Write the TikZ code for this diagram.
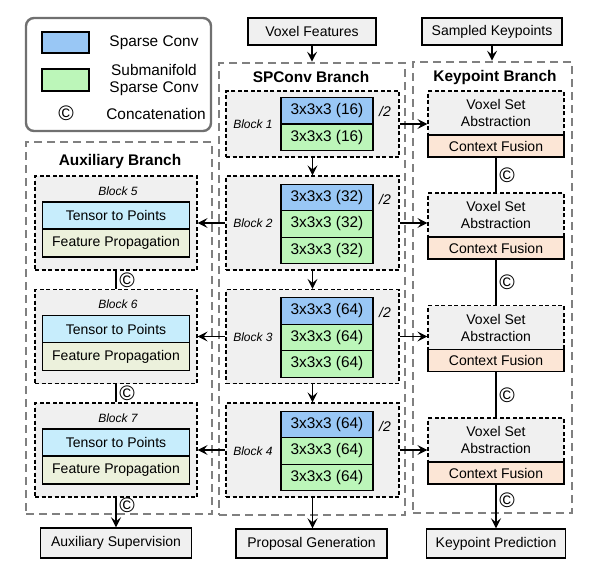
\documentclass[tikz,border=0pt]{standalone}
\usepackage{fontspec}
\setmainfont{Liberation Sans}
\usetikzlibrary{arrows.meta}
\definecolor{spblue}{RGB}{153,199,245}
\definecolor{smgreen}{RGB}{188,246,185}
\definecolor{cfpeach}{RGB}{252,230,214}
\definecolor{tpcyan}{RGB}{199,237,252}
\definecolor{fpbeige}{RGB}{236,241,220}
\definecolor{blkfill}{RGB}{240,240,240}
\definecolor{outergray}{RGB}{128,128,128}
\definecolor{leggray}{RGB}{112,112,112}
\newcommand{\fsz}[1]{\fontsize{#1}{17}\selectfont}
\begin{document}
\begin{tikzpicture}[x=1pt,y=-1pt,
  iobox/.style={draw=black, line width=1.4pt, fill=blkfill, font=\fsz{14}, inner sep=0pt},
  outerbox/.style={draw=outergray, line width=2.6pt, dash pattern=on 8pt off 5pt, inner sep=0pt},
  blockbox/.style={draw=black, line width=1.2pt, dash pattern=on 4pt off 2.5pt, fill=blkfill, inner sep=0pt},
  cell/.style={draw=black, line width=1.4pt, inner sep=0pt, font=\fsz{15.4}, minimum width=92, minimum height=26.5},
  spc/.style={cell, fill=spblue},
  smc/.style={cell, fill=smgreen},
  auxcell/.style={draw=black, line width=1.4pt, inner sep=0pt, font=\fsz{14}, minimum width=147},
  vsabox/.style={draw=black, line width=1.2pt, dash pattern=on 4pt off 2.5pt, fill=blkfill, inner sep=0pt, align=center, font=\fsz{14}, minimum width=136, minimum height=44},
  cfbox/.style={draw=black, line width=1.4pt, fill=cfpeach, inner sep=0pt, font=\fsz{14}, minimum width=136, minimum height=22},
  title/.style={font=\bfseries\fsz{15.4}},
  blab/.style={font=\itshape\fsz{12}},
  half/.style={font=\itshape\fsz{14}},
  cc/.style={font=\fontsize{21}{21}\selectfont, inner sep=0pt},
  conn/.style={line width=1.4pt, draw=black},
  arr/.style={conn, -{Stealth[length=10pt, width=10pt, inset=4pt]}}
]
\useasboundingbox (0,0) rectangle (594,566);

% legend
\node[draw=leggray, line width=2.4pt, rounded corners=8pt, minimum width=185, minimum height=113, inner sep=0pt] (legend) at (118.5,74.5) {};
\node[draw=black, line width=1.4pt, fill=spblue, minimum width=47, minimum height=21, inner sep=0pt] (legblue) at (65.5,42.5) {};
\node[draw=black, line width=1.4pt, fill=smgreen, minimum width=47, minimum height=22, inner sep=0pt] (leggreen) at (65.5,80) {};
\node[font=\fsz{15.4}] (legt1) at (154,43) {Sparse Conv};
\node[font=\fsz{15.4}, align=center, inner sep=0pt] (legt2) at (154,80) {Submanifold\\Sparse Conv};
\node[cc] (legc) at (66,113) {\textcopyright};
\node[font=\fsz{15.4}] (legt3) at (156,114) {Concatenation};

% outer branch boxes
\node[outerbox, minimum width=186, minimum height=372] (auxo) at (119,328) {};
\node[outerbox, minimum width=186, minimum height=452] (spco) at (312,289) {};
\node[outerbox, minimum width=159, minimum height=451] (kpo) at (492.5,287.5) {};

\node[title] (auxt) at (120,162) {Auxiliary Branch};
\node[title] (spct) at (311,77) {SPConv Branch};
\node[title] (kpt) at (495,78) {Keypoint Branch};

% inputs
\node[iobox, minimum width=128, minimum height=27] (vf) at (312,31.5) {Voxel Features};
\node[iobox, minimum width=140, minimum height=27] (sk) at (492,31.5) {Sampled Keypoints};
\draw[arr] (vf.south) -- (vf.south |- spco.north);
\draw[arr] (sk.south) -- (sk.south |- kpo.north);

% SPConv blocks
\node[blockbox, minimum width=173, minimum height=66] (b1) at (312.5,124) {};
\node[spc] (c11) at (327,110.5) {3x3x3 (16)};
\node[smc] (c12) at (327,137.5) {3x3x3 (16)};
\node[blab] (bl1) at (253,124) {Block 1};
\node[half] (h1) at (385,111) {/2};

\node[blockbox, minimum width=173, minimum height=94] (b2) at (312.5,223) {};
\node[spc] (c21) at (327,197.5) {3x3x3 (32)};
\node[smc] (c22) at (327,224) {3x3x3 (32)};
\node[smc] (c23) at (327,250.5) {3x3x3 (32)};
\node[blab] (bl2) at (253,223) {Block 2};
\node[half] (h2) at (385,199) {/2};

\node[blockbox, minimum width=173, minimum height=94] (b3) at (312.5,336.5) {};
\node[spc] (c31) at (327,311) {3x3x3 (64)};
\node[smc] (c32) at (327,337.5) {3x3x3 (64)};
\node[smc] (c33) at (327,364) {3x3x3 (64)};
\node[blab] (bl3) at (253,337) {Block 3};
\node[half] (h3) at (385,312.5) {/2};

\node[blockbox, minimum width=173, minimum height=94] (b4) at (312.5,450) {};
\node[spc] (c41) at (327,424.5) {3x3x3 (64)};
\node[smc] (c42) at (327,451) {3x3x3 (64)};
\node[smc] (c43) at (327,477.5) {3x3x3 (64)};
\node[blab] (bl4) at (253,451) {Block 4};
\node[half] (h4) at (385,426) {/2};

\draw[arr] (b1.south) -- (b2.north);
\draw[arr] (b2.south) -- (b3.north);
\draw[arr] (b3.south) -- (b4.north);

% Auxiliary blocks
\node[blockbox, minimum width=162, minimum height=94] (a5) at (116,223) {};
\node[blab] (bl5) at (118,191) {Block 5};
\node[auxcell, fill=tpcyan, minimum height=27] (tp5) at (116,215.5) {Tensor to Points};
\node[auxcell, fill=fpbeige, minimum height=28] (fp5) at (116,243) {Feature Propagation};

\node[blockbox, minimum width=162, minimum height=94] (a6) at (116,336.5) {};
\node[blab] (bl6) at (118,304.5) {Block 6};
\node[auxcell, fill=tpcyan, minimum height=27] (tp6) at (116,329) {Tensor to Points};
\node[auxcell, fill=fpbeige, minimum height=28] (fp6) at (116,356.5) {Feature Propagation};

\node[blockbox, minimum width=162, minimum height=94] (a7) at (116,450) {};
\node[blab] (bl7) at (118,418) {Block 7};
\node[auxcell, fill=tpcyan, minimum height=27] (tp7) at (116,442.5) {Tensor to Points};
\node[auxcell, fill=fpbeige, minimum height=28] (fp7) at (116,470) {Feature Propagation};

\draw[arr] (b2.west) -- (a5.east);
\draw[arr] (b3.west) -- (a6.east);
\draw[arr] (b4.west) -- (a7.east);

\draw[conn] (a5.south) -- (a6.north);
\node[cc] (cat56) at (127,279.75) {\textcopyright};
\draw[conn] (a6.south) -- (a7.north);
\node[cc] (cat67) at (127,393.25) {\textcopyright};

% Keypoint blocks
\node[vsabox] (v1) at (496,113) {Voxel Set\\Abstraction};
\node[cfbox] (f1) at (496,146) {Context Fusion};
\node[vsabox] (v2) at (496,215) {Voxel Set\\Abstraction};
\node[cfbox] (f2) at (496,248) {Context Fusion};
\node[vsabox] (v3) at (496,327.5) {Voxel Set\\Abstraction};
\node[cfbox] (f3) at (496,360.5) {Context Fusion};
\node[vsabox] (v4) at (496,440) {Voxel Set\\Abstraction};
\node[cfbox] (f4) at (496,473) {Context Fusion};

\draw[arr] (b1.east) -- (b1.east -| v1.west);
\draw[arr] (b2.east) -- (b2.east -| v2.west);
\draw[arr] (b3.east) -- (b3.east -| v3.west);
\draw[arr] (b4.east) -- (b4.east -| v4.west);

\draw[conn] (f1.south) -- (v2.north);
\node[cc] (catk12) at (507,175) {\textcopyright};
\draw[conn] (f2.south) -- (v3.north);
\node[cc] (catk23) at (507,282) {\textcopyright};
\draw[conn] (f3.south) -- (v4.north);
\node[cc] (catk34) at (507,395) {\textcopyright};

% outputs
\node[iobox, minimum width=151, minimum height=30] (auxsup) at (116,543) {Auxiliary Supervision};
\node[iobox, minimum width=151, minimum height=29] (prop) at (311.5,543.5) {Proposal Generation};
\node[iobox, minimum width=139, minimum height=29] (kpred) at (496,543.5) {Keypoint Prediction};

\draw[arr] (a7.south) -- (auxsup.north);
\node[cc] (cat7s) at (127,505) {\textcopyright};
\draw[arr] (b4.south) -- (b4.south |- prop.north);
\draw[arr] (f4.south) -- (kpred.north);
\node[cc] (catks) at (507,500) {\textcopyright};
\end{tikzpicture}
\end{document}
